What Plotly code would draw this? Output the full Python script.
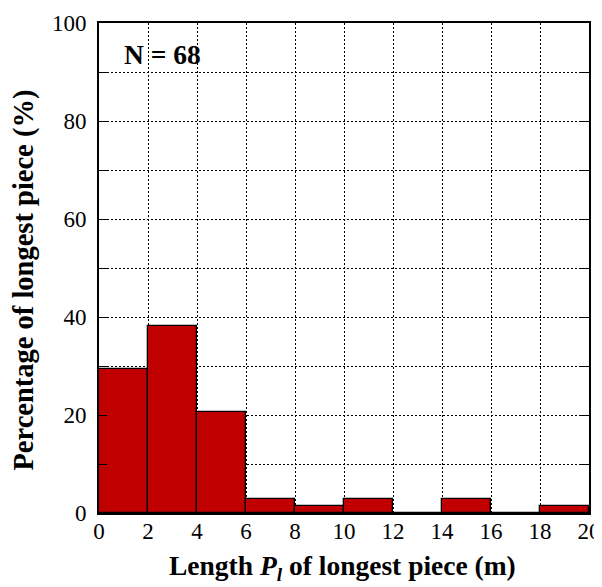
import plotly.graph_objects as go

bin_starts = [0, 2, 4, 6, 8, 10, 12, 14, 16, 18]
bin_width = 2
percentages = [29.4, 38.2, 20.6, 2.9, 1.5, 2.9, 0.0, 2.9, 0.0, 1.5]
x_ticks = [0, 2, 4, 6, 8, 10, 12, 14, 16, 18, 20]
y_ticks = [0, 20, 40, 60, 80, 100]
annotation_text = "N = 68"
x_title = "<b>Length <i>P</i><sub><i>l</i></sub> of longest piece (m)</b>"
y_title = "<b>Percentage of longest piece (%)</b>"

FONT = "Liberation Serif, Times New Roman, serif"
TICK_SIZE = 23
TITLE_SIZE = 28.5

fig = go.Figure()
fig.add_trace(go.Bar(
    x=bin_starts,
    y=percentages,
    width=[bin_width] * len(bin_starts),
    offset=0,
    marker=dict(color="#C00000", line=dict(color="black", width=1.3)),
    showlegend=False,
))

grid_dash = "2px,2px"

fig.update_layout(
    width=602, height=587,
    margin=dict(l=91, r=21, t=15, b=82),
    paper_bgcolor="white", plot_bgcolor="white",
    font=dict(family=FONT, size=TICK_SIZE, color="black"),
    bargap=0,
    xaxis=dict(
        range=[0, 20], tickvals=x_ticks, ticks="",
        automargin=False, ticklabelstandoff=-4,
        showgrid=True, gridcolor="black", gridwidth=1, griddash=grid_dash,
        showline=True, linecolor="black", linewidth=2, mirror=True,
        zeroline=False,
        tickfont=dict(size=TICK_SIZE),
    ),
    yaxis=dict(
        range=[0, 100], tickvals=y_ticks, ticks="inside", ticklen=8, tickwidth=1,
        tickcolor="black", automargin=False, ticklabelstandoff=6,
        showgrid=True, gridcolor="black", gridwidth=1, griddash=grid_dash,
        minor=dict(dtick=10, showgrid=True, gridcolor="black", gridwidth=1,
                   griddash=grid_dash, ticks="inside", ticklen=8, tickcolor="black"),
        showline=True, linecolor="black", linewidth=2, mirror="allticks",
        zeroline=False,
        tickfont=dict(size=TICK_SIZE),
    ),
    annotations=[
        dict(x=2.6, y=93.5, xref="x", yref="y", text="<b>" + annotation_text + "</b>",
             showarrow=False, font=dict(size=TITLE_SIZE - 1, family=FONT)),
        dict(x=0.497, y=-0.072, xref="paper", yref="paper", text=x_title,
             xanchor="center", yanchor="top", showarrow=False,
             font=dict(size=27.5, family=FONT)),
        dict(x=-0.154, y=0.4755, xref="paper", yref="paper", text=y_title,
             xanchor="center", yanchor="middle", textangle=-90, showarrow=False,
             font=dict(size=TITLE_SIZE, family=FONT)),
    ],
)

fig.write_html("out.html")
